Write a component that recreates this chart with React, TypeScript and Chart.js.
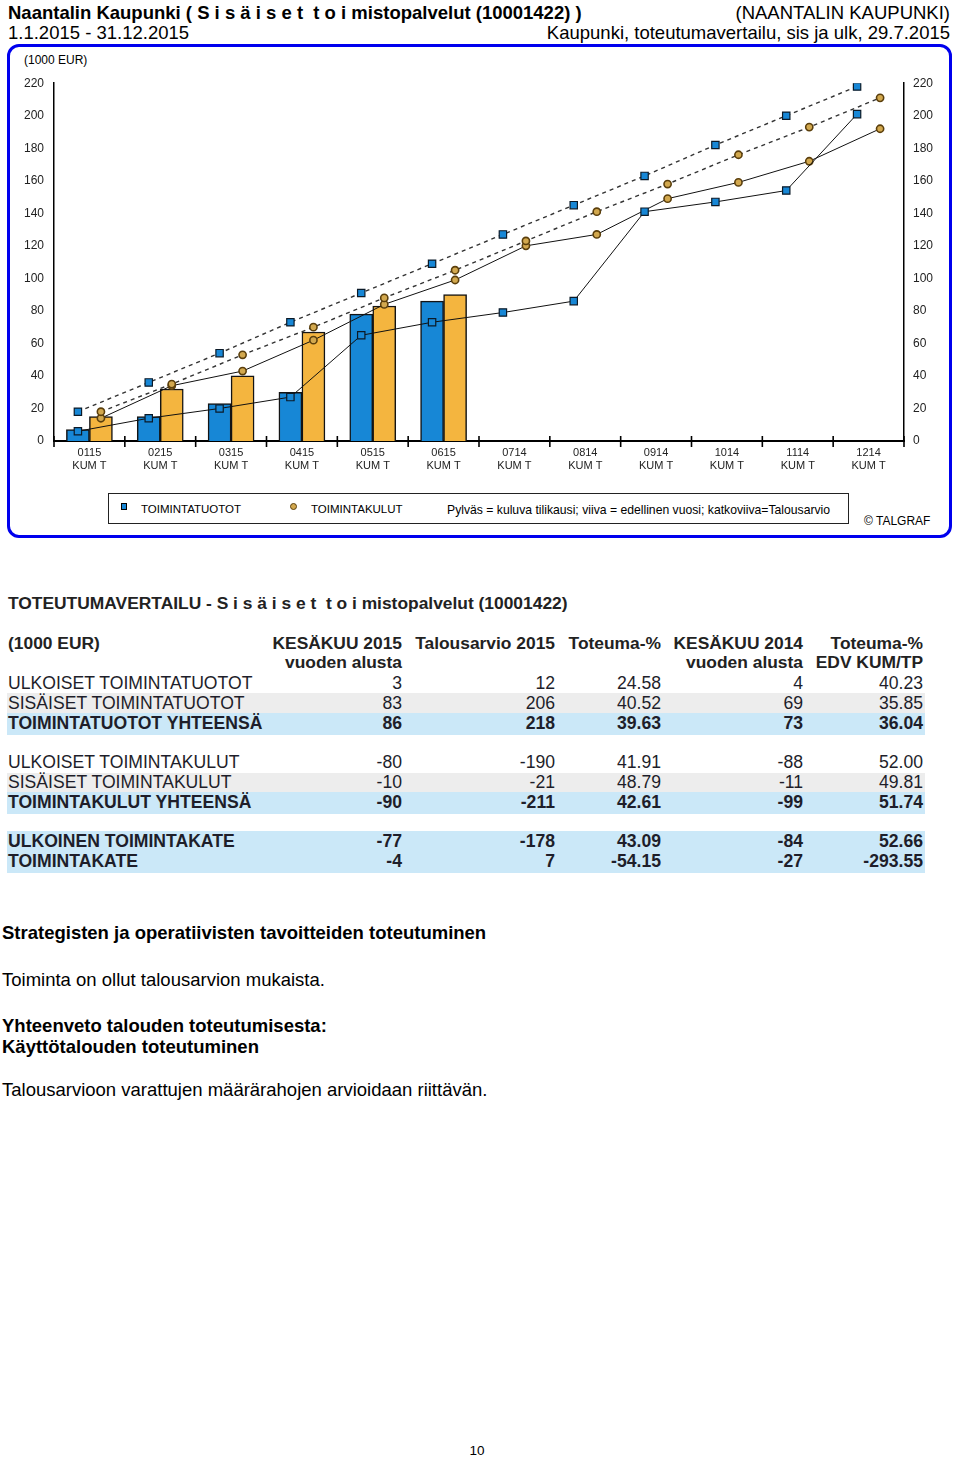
import React, { useEffect, useRef } from "react";
import { Chart, registerables } from "chart.js";

Chart.register(...registerables);

const FONT = "'Liberation Sans', Arial, Helvetica, sans-serif";

// ---------- chart data ----------
const periods = ["0115", "0215", "0315", "0415", "0515", "0615", "0714", "0814", "0914", "1014", "1114", "1214"];
const periodSub = "KUM T";
const revenue2015 = [7, 15, 23, 30, 78, 86];
const costs2015 = [15, 32, 40, 67, 83, 90];
const revenue2014 = [6, 14, 20, 27, 65, 73, 79, 86, 141, 147, 154, 201];
const costs2014 = [14, 34, 43, 62, 84, 99, 120, 127, 149, 159, 172, 192];
const revenueBudget = [18, 36, 54, 73, 91, 109, 127, 145, 163, 182, 200, 218];
const costsBudget = [18, 35, 53, 70, 88, 105, 123, 141, 158, 176, 193, 211];
const yMin = 0;
const yMax = 220;
const yStep = 20;

// ---------- table data ----------
const tableTitle = "TOTEUTUMAVERTAILU - S i s ä i s e t  t o i mistopalvelut (10001422)";
const unitLabel = "(1000 EUR)";
const colHeaders = [
  ["KESÄKUU 2015", "vuoden alusta"],
  ["Talousarvio 2015"],
  ["Toteuma-%"],
  ["KESÄKUU 2014", "vuoden alusta"],
  ["Toteuma-%", "EDV KUM/TP"],
];
const rowLabels = [
  "ULKOISET TOIMINTATUOTOT",
  "SISÄISET TOIMINTATUOTOT",
  "TOIMINTATUOTOT YHTEENSÄ",
  "ULKOISET TOIMINTAKULUT",
  "SISÄISET TOIMINTAKULUT",
  "TOIMINTAKULUT YHTEENSÄ",
  "ULKOINEN TOIMINTAKATE",
  "TOIMINTAKATE",
];
const colActual2015 = ["3", "83", "86", "-80", "-10", "-90", "-77", "-4"];
const colBudget2015 = ["12", "206", "218", "-190", "-21", "-211", "-178", "7"];
const colPct2015 = ["24.58", "40.52", "39.63", "41.91", "48.79", "42.61", "43.09", "-54.15"];
const colActual2014 = ["4", "69", "73", "-88", "-11", "-99", "-84", "-27"];
const colPct2014 = ["40.23", "35.85", "36.04", "52.00", "49.81", "51.74", "52.66", "-293.55"];

// ---------- styles ----------
const BLUE = "#1787d6";
const ORANGE = "#f4b53f";
const DOT_FILL = "#d2a84e";
const DOT_EDGE = "#5b3f0c";
const PAIR_SHARE = 0.65; // share of a category taken by the bar pair

const ASC = 0.8465;
function Txt(props: any) {
  const { x, base, size, bold, align, children, color, family } = props;
  const style: any = {
    position: "absolute",
    top: base - ASC * size,
    fontSize: size,
    lineHeight: `${size}px`,
    fontWeight: bold ? 700 : 400,
    whiteSpace: "pre",
    color: color || "#000",
    fontFamily: family || FONT,
  };
  if (align === "right") style.right = 960 - x;
  else if (align === "center") {
    style.left = x - 100;
    style.width = 200;
    style.textAlign = "center";
  } else style.left = x;
  return <div style={style}>{children}</div>;
}

const xTickMarks = {
  id: "xTickMarks",
  afterDraw(chart: any) {
    const xs = chart.scales.x;
    const ctx = chart.ctx;
    const b = chart.chartArea.bottom;
    const n = xs.ticks.length;
    ctx.save();
    ctx.strokeStyle = "#000";
    ctx.lineWidth = 1.6;
    for (let i = 0; i <= n; i++) {
      let x;
      if (i === 0) x = xs.left;
      else if (i === n) x = xs.right;
      else x = (xs.getPixelForTick(i - 1) + xs.getPixelForTick(i)) / 2;
      ctx.beginPath();
      ctx.moveTo(x, b - 5);
      ctx.lineTo(x, b + 6);
      ctx.stroke();
    }
    ctx.restore();
  },
};

function ChartBox() {
  const ref = useRef<HTMLCanvasElement>(null);
  useEffect(() => {
    const off = PAIR_SHARE / 4;
    const common = { xAxisID: "xl", yAxisID: "y" };
    const lineBase = { ...common, type: "line" as const, tension: 0, fill: false, order: 1 };
    const barBase = {
      ...common,
      type: "bar" as const,
      grouped: false,
      categoryPercentage: 1,
      barPercentage: 1,
      borderColor: "#141414",
      borderWidth: 1.5,
      order: 5,
    };
    const squarePts = {
      pointStyle: "rect",
      pointRadius: 5.2,
      pointBackgroundColor: BLUE,
      pointBorderColor: "#0b1a28",
      pointBorderWidth: 1.2,
    };
    const dotPts = {
      pointStyle: "circle",
      pointRadius: 3.6,
      pointBackgroundColor: DOT_FILL,
      pointBorderColor: DOT_EDGE,
      pointBorderWidth: 1.6,
    };
    const tickFont = { family: FONT, size: 12 };
    const chart = new Chart(ref.current as HTMLCanvasElement, {
      type: "bar",
      data: {
        labels: periods.map((p) => [p, periodSub]),
        datasets: [
          {
            ...barBase,
            label: "TOIMINTATUOTOT",
            data: revenue2015.map((v, i) => ({ x: i - off, y: v })),
            backgroundColor: BLUE,
          },
          {
            ...barBase,
            label: "TOIMINTAKULUT",
            data: costs2015.map((v, i) => ({ x: i + off, y: v })),
            backgroundColor: ORANGE,
          },
          {
            ...lineBase,
            ...squarePts,
            label: "TOIMINTATUOTOT talousarvio",
            data: revenueBudget.map((v, i) => ({ x: i - off, y: v })),
            borderColor: "#333",
            borderWidth: 1.4,
            borderDash: [4, 4],
          },
          {
            ...lineBase,
            ...dotPts,
            label: "TOIMINTAKULUT talousarvio",
            data: costsBudget.map((v, i) => ({ x: i + off, y: v })),
            borderColor: "#333",
            borderWidth: 1.4,
            borderDash: [4, 4],
          },
          {
            ...lineBase,
            ...squarePts,
            label: "TOIMINTATUOTOT edellinen vuosi",
            data: revenue2014.map((v, i) => ({ x: i - off, y: v })),
            borderColor: "#111",
            borderWidth: 1,
          },
          {
            ...lineBase,
            ...dotPts,
            label: "TOIMINTAKULUT edellinen vuosi",
            data: costs2014.map((v, i) => ({ x: i + off, y: v })),
            borderColor: "#111",
            borderWidth: 1,
          },
        ] as any,
      },
      options: {
        animation: false,
        responsive: true,
        maintainAspectRatio: false,
        layout: { padding: { top: 16, left: 0, right: 0, bottom: 0 } },
        plugins: { legend: { display: false }, tooltip: { enabled: false } },
        scales: {
          x: {
            type: "category",
            offset: true,
            grid: { display: false, drawTicks: false, offset: true },
            border: { display: true, color: "#000", width: 2 },
            ticks: {
              font: { family: FONT, size: 11 },
              color: "#222",
              padding: 5,
              maxRotation: 0,
              autoSkip: false,
            },
            afterFit: (s: any) => {
              s.height = 39;
            },
          },
          xl: {
            type: "linear",
            display: false,
            offset: false,
            grid: { offset: false },
            min: -0.5,
            max: 11.5,
            ticks: { stepSize: 1 },
          },
          y: {
            position: "left",
            min: yMin,
            max: yMax,
            ticks: { stepSize: yStep, padding: 10, font: tickFont, color: "#222" },
            grid: { display: false, drawTicks: false },
            border: { display: true, color: "#000", width: 1.5 },
            afterFit: (s: any) => {
              s.width = 44;
            },
          },
          y2: {
            position: "right",
            min: yMin,
            max: yMax,
            ticks: { stepSize: yStep, padding: 9, font: tickFont, color: "#222" },
            grid: { display: false, drawTicks: false },
            border: { display: true, color: "#000", width: 1.5 },
            afterFit: (s: any) => {
              s.width = 44;
            },
          },
        },
      } as any,
      plugins: [xTickMarks],
    });
    return () => chart.destroy();
  }, []);
  return (
    <div style={{ position: "absolute", left: 10, top: 66, width: 938, height: 414 }}>
      <canvas ref={ref} />
    </div>
  );
}

const rowCenters = [683.5, 703.5, 723.5, 762.5, 782.5, 803, 841.5, 862];
const rowBold = [false, false, true, false, false, true, true, true];
const bgBands = [
  { top: 693, h: 20, color: "#ededed" },
  { top: 713, h: 22, color: "#cbe8f8" },
  { top: 773, h: 19, color: "#ededed" },
  { top: 792, h: 22, color: "#cbe8f8" },
  { top: 831, h: 42, color: "#cbe8f8" },
];
const colRights = [402, 555, 661, 803, 923];

export default function App() {
  const cols = [colActual2015, colBudget2015, colPct2015, colActual2014, colPct2014];
  const rowSize = 17.6;
  return (
    <div style={{ position: "absolute", left: 0, top: 0, width: 960, height: 1457, background: "#fff", fontFamily: FONT, overflow: "hidden" }}>
      {/* page header */}
      <Txt x={8} base={19.5} size={18.5} bold>{"Naantalin Kaupunki ( S i s ä i s e t  t o i mistopalvelut (10001422) )"}</Txt>
      <Txt x={950} base={19.5} size={18.5} align="right">{"(NAANTALIN KAUPUNKI)"}</Txt>
      <Txt x={8} base={40} size={18.5}>{"1.1.2015 - 31.12.2015"}</Txt>
      <Txt x={950} base={40} size={18.5} align="right">{"Kaupunki, toteutumavertailu, sis ja ulk, 29.7.2015"}</Txt>

      {/* chart frame */}
      <div style={{ position: "absolute", left: 7, top: 44, width: 945, height: 494, boxSizing: "border-box", border: "3px solid #0000ee", borderRadius: 12 }} />
      <Txt x={24} base={64} size={12}>{"(1000 EUR)"}</Txt>
      <ChartBox />

      {/* legend */}
      <div style={{ position: "absolute", left: 108, top: 493, width: 741, height: 31, boxSizing: "border-box", border: "1px solid #222" }} />
      <div style={{ position: "absolute", left: 121, top: 503, width: 6, height: 7, boxSizing: "border-box", background: BLUE, border: "1px solid #000" }} />
      <Txt x={141} base={514} size={11.5}>{"TOIMINTATUOTOT"}</Txt>
      <div style={{ position: "absolute", left: 290, top: 503, width: 7, height: 7, boxSizing: "border-box", borderRadius: "50%", background: DOT_FILL, border: `1.5px solid ${DOT_EDGE}` }} />
      <Txt x={311} base={514} size={11.5}>{"TOIMINTAKULUT"}</Txt>
      <Txt x={447} base={514} size={12.2}>{"Pylväs = kuluva tilikausi; viiva = edellinen vuosi; katkoviiva=Talousarvio"}</Txt>
      <Txt x={864} base={525} size={12}>{"© TALGRAF"}</Txt>

      {/* table */}
      <Txt x={8} base={609.6} size={17.4} bold color="#222">{tableTitle}</Txt>
      <Txt x={8} base={650} size={17.4} bold color="#222">{unitLabel}</Txt>
      {colHeaders.map((lines, ci) =>
        lines.map((t, li) => (
          <Txt key={`h${ci}-${li}`} x={colRights[ci]} base={650 + li * 19} size={17.4} bold align="right" color="#222">
            {t}
          </Txt>
        ))
      )}
      {bgBands.map((b, i) => (
        <div key={`bg${i}`} style={{ position: "absolute", left: 7, top: b.top, width: 918, height: b.h, background: b.color }} />
      ))}
      {rowLabels.map((lab, ri) => (
        <React.Fragment key={`r${ri}`}>
          <Txt x={8} base={rowCenters[ri] + 6.2} size={rowSize} bold={rowBold[ri]} color="#1e1e2a">
            {lab}
          </Txt>
          {cols.map((c, ci) => (
            <Txt key={`c${ci}`} x={colRights[ci]} base={rowCenters[ri] + 6.2} size={rowSize} bold={rowBold[ri]} align="right" color="#1e1e2a">
              {c[ri]}
            </Txt>
          ))}
        </React.Fragment>
      ))}

      {/* text section */}
      <Txt x={2} base={940} size={18.5} bold>{"Strategisten ja operatiivisten tavoitteiden toteutuminen"}</Txt>
      <Txt x={2} base={987} size={18.5}>{"Toiminta on ollut talousarvion mukaista."}</Txt>
      <Txt x={2} base={1033} size={18.5} bold>{"Yhteenveto talouden toteutumisesta:"}</Txt>
      <Txt x={2} base={1054} size={18.5} bold>{"Käyttötalouden toteutuminen"}</Txt>
      <Txt x={2} base={1097} size={18.5}>{"Talousarvioon varattujen määrärahojen arvioidaan riittävän."}</Txt>

      <Txt x={477} base={1455} size={13.5} align="center">{"10"}</Txt>
    </div>
  );
}
